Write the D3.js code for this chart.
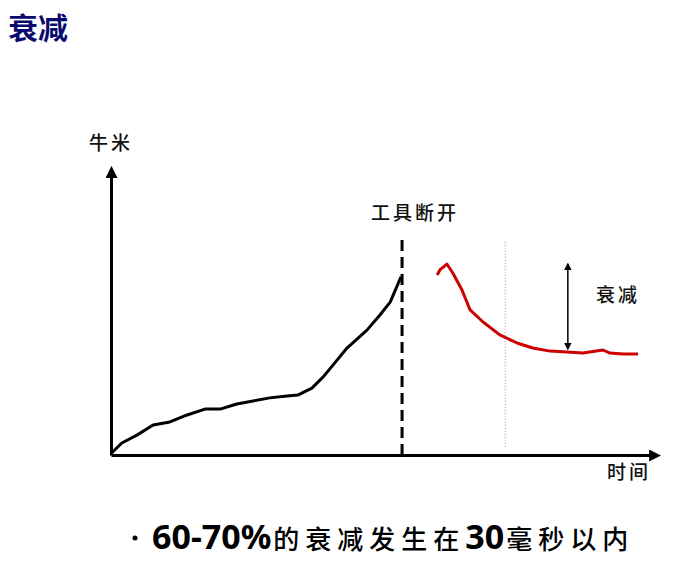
<!DOCTYPE html>
<html>
<head>
<meta charset="utf-8">
<script src="https://cdn.jsdelivr.net/npm/d3@7"></script>
<style>
  body { margin: 0; background: #fff; }
  text { font-family: "Noto Sans CJK SC", sans-serif; }
</style>
</head>
<body>
<script>
var width = 684,
    height = 564;

// torque before the tool disconnects (time, newton-metres, arbitrary units)
var beforeTime  = [0, 2.0, 4.8, 7.8, 10.9, 14.1, 17.4, 20.2, 23.3, 26.3, 29.4, 32.6, 34.6, 37.2, 39.3, 41.1, 43.7, 47.4, 49.8, 51.7, 53.7];
var beforeValue = [0.5, 4.3, 7.1, 10.7, 11.8, 14.3, 16.4, 16.4, 18.2, 19.3, 20.4, 21.1, 21.4, 23.9, 27.9, 32.1, 38.2, 44.6, 50.0, 54.6, 63.6];

// residual torque after the disconnect
var afterTime  = [60.4, 60.9, 62.2, 63.3, 65.0, 66.5, 68.9, 72.0, 75.2, 78.1, 81.3, 84.4, 87.4, 91.1, 92.4, 94.8, 97.6];
var afterValue = [64.3, 66.1, 68.2, 65.0, 58.9, 51.8, 47.5, 42.9, 40.0, 38.2, 37.1, 36.8, 36.4, 37.5, 36.4, 36.1, 36.1];

// markers: disconnect moment, 30 ms mark, decay arrow
var breakTime = 53.9, breakTop = 78.6;
var msTime = 73.0, msRange = [2.9, 76.8];
var decayTime = 84.6, decayRange = [37.9, 68.2];

var labels = {title: "衰减", yAxis: "牛米", xAxis: "时间", cut: "工具断开", decay: "衰减"};
var noteParts = [["60-70%", "num"], ["的衰减发生在", "cjk"], ["30", "num"], ["毫秒以内", "cjk"]];

var svg = d3.select("body").append("svg")
  .attr("width", width)
  .attr("height", height);

var defs = svg.append("defs");
defs.append("marker")
  .attr("id", "arrow")
  .attr("viewBox", "0 0 10 10")
  .attr("refX", 2).attr("refY", 5)
  .attr("markerWidth", 4).attr("markerHeight", 4)
  .attr("orient", "auto-start-reverse")
  .append("path")
    .attr("d", "M0,0 L10,5 L0,10 Z")
    .attr("fill", "#000");

var xScale = d3.scaleLinear().domain([0, 100]).range([111, 651]);
var yScale = d3.scaleLinear().domain([0, 100]).range([455, 175]);

// axes: plain lines with arrow heads, no ticks
var xAxis = svg.append("g")
  .attr("transform", "translate(0," + yScale(0) + ")")
  .call(d3.axisBottom(xScale).ticks(0).tickSizeOuter(0));
xAxis.select(".domain")
  .attr("stroke", "#000")
  .attr("stroke-width", 3)
  .attr("marker-end", "url(#arrow)");

var yAxis = svg.append("g")
  .attr("transform", "translate(" + xScale(0) + ",0)")
  .call(d3.axisLeft(yScale).ticks(0).tickSizeOuter(0));
yAxis.select(".domain")
  .attr("stroke", "#000")
  .attr("stroke-width", 3)
  .attr("marker-end", "url(#arrow)");

var line = d3.line()
  .x(function(d){ return xScale(d[0]); })
  .y(function(d){ return yScale(d[1]); });

// dashed disconnect line
svg.append("line")
  .attr("x1", xScale(breakTime)).attr("x2", xScale(breakTime))
  .attr("y1", yScale(0)).attr("y2", yScale(breakTop))
  .attr("stroke", "#000")
  .attr("stroke-width", 3)
  .attr("stroke-dasharray", "11,6");

// thin dotted 30ms line
svg.append("line")
  .attr("x1", xScale(msTime)).attr("x2", xScale(msTime))
  .attr("y1", yScale(msRange[0])).attr("y2", yScale(msRange[1]))
  .attr("stroke", "#d77")
  .attr("stroke-width", 1)
  .attr("stroke-dasharray", "1,2");

svg.append("path")
  .datum(d3.zip(beforeTime, beforeValue))
  .attr("d", line)
  .attr("fill", "none")
  .attr("stroke", "#000")
  .attr("stroke-width", 3)
  .attr("stroke-linejoin", "round");

svg.append("path")
  .datum(d3.zip(afterTime, afterValue))
  .attr("d", line)
  .attr("fill", "none")
  .attr("stroke", "#cc0000")
  .attr("stroke-width", 3)
  .attr("stroke-linejoin", "round");

// decay double arrow
defs.append("marker")
  .attr("id", "tip")
  .attr("viewBox", "0 0 10 10")
  .attr("refX", 8).attr("refY", 5)
  .attr("markerWidth", 5).attr("markerHeight", 5)
  .attr("orient", "auto-start-reverse")
  .append("path")
    .attr("d", "M0,0 L10,5 L0,10 Z")
    .attr("fill", "#000");

svg.append("line")
  .attr("x1", xScale(decayTime)).attr("x2", xScale(decayTime))
  .attr("y1", yScale(decayRange[0])).attr("y2", yScale(decayRange[1]))
  .attr("stroke", "#000")
  .attr("stroke-width", 1.5)
  .attr("marker-start", "url(#tip)")
  .attr("marker-end", "url(#tip)");

//labels
svg.append("text")
  .attr("x", 8).attr("y", 39)
  .attr("font-size", 30)
  .attr("font-weight", "bold")
  .attr("fill", "#0a0a6e")
  .text(labels.title);

function label(x, y, txt) {
  svg.append("text")
    .attr("x", x).attr("y", y)
    .attr("font-size", 19)
    .attr("font-weight", 500)
    .attr("letter-spacing", 3)
    .attr("fill", "#111")
    .text(txt);
}
label(89, 150, labels.yAxis);
label(371, 220, labels.cut);
label(596, 302, labels.decay);
label(607, 479, labels.xAxis);

// bullet
svg.append("circle")
  .attr("cx", 135).attr("cy", 538).attr("r", 2.5)
  .attr("fill", "#000");

var note = svg.append("text")
  .attr("x", 152).attr("y", 549)
  .attr("fill", "#000");
note.selectAll("tspan")
  .data(noteParts)
  .enter().append("tspan")
    .text(function(d){ return d[0]; })
    .attr("font-size", function(d){ return d[1] == "cjk" ? 26 : 34; })
    .attr("font-weight", function(d){ return d[1] == "cjk" ? 500 : "bold"; })
    .attr("font-family", function(d){ return d[1] == "cjk" ? "Noto Sans CJK SC" : "Noto Sans, sans-serif"; })
    .attr("letter-spacing", function(d){ return d[1] == "cjk" ? 6 : 0; })
    .attr("dx", function(d){ return d[1] == "cjk" ? 2 : 0; });
</script>
</body>
</html>
